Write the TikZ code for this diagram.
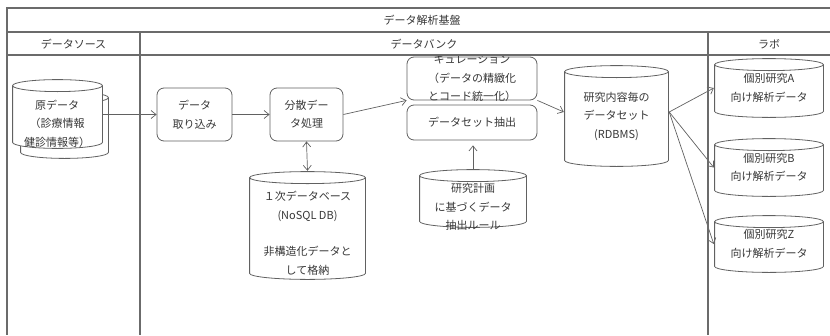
\documentclass[tikz,border=0pt]{standalone}
\usepackage{fontspec}
\setmainfont{Noto Sans CJK JP}
\usepackage{tikz}
\usetikzlibrary{positioning,arrows.meta,calc}

\begin{document}
\begin{tikzpicture}[x=1pt,y=-1pt,
  font=\fontsize{11}{18.5}\selectfont,
  every node/.style={text=black!78,align=center},
  box/.style={draw=black!62,line width=0.8pt,rounded corners=7pt,fill=white,inner sep=0pt},
  dbline/.style={draw=black!62,line width=0.8pt,fill=white},
  db/.style={rectangle,inner sep=0pt,
    path picture={
      \draw[dbline] let \p1=(path picture bounding box.south west),
        \p2=(path picture bounding box.north east),
        \n1={(\x2-\x1)/2-0.6pt} in
        (\x1+0.6pt,\y2-6.6pt) -- (\x1+0.6pt,\y1+6.6pt)
        arc[start angle=180,end angle=360,x radius={\n1*1pt},y radius=6pt]
        -- (\x2-0.6pt,\y2-6.6pt)
        arc[start angle=0,end angle=180,x radius={\n1*1pt},y radius=6pt]
        arc[start angle=180,end angle=360,x radius={\n1*1pt},y radius=6pt];
    }},
  lane/.style={draw=black!58,line width=1.3pt},
  arr/.style={draw=black!62,line width=0.7pt,-{Straight Barb[length=5pt,width=8pt]}}]
  \useasboundingbox (0,0) rectangle (830,335);

  % source
  \node[db,minimum width=89pt,minimum height=68pt] (src2) at (64.5,125) {};
  \node[db,minimum width=91pt,minimum height=70pt] (src) at (57.5,114) {};
  \node (srctxt) at (57,123.5) {原データ\\（診療情報\\健診情報等）};

  % data bank
  \node[box,minimum width=75pt,minimum height=53pt] (imp) at (194.5,114.5) {データ\\取り込み};
  \node[box,minimum width=73pt,minimum height=53pt] (dist) at (306.5,114.5) {分散デー\\タ処理};
  \node[box,minimum width=130pt,minimum height=43pt] (cur) at (472,78.5) {};
  \node (curtxt) at (cur.center) {キュレーション\\（データの精緻化\\とコード統一化）};
  \node[box,minimum width=130pt,minimum height=35pt] (ext) at (472,122.5) {データセット抽出};
  \node[db,minimum width=117pt,minimum height=109pt] (nosql) at (307.5,225.5) {};
  \node (nosqltxt) at (307.5,233.5) {１次データベース\\(NoSQL DB)\\[18pt]非構造化データと\\して格納};
  \node[db,minimum width=108pt,minimum height=59pt] (plan) at (473,198.5) {};
  \node (plantxt) at (473,207) {研究計画\\に基づくデータ\\抽出ルール};
  \node[db,minimum width=105pt,minimum height=102pt] (rdb) at (616.5,116) {研究内容毎の\\データセット\\(RDBMS)};

  % lab
  \node[db,minimum width=110pt,minimum height=60pt] (labA) at (769,88) {個別研究A\\向け解析データ};
  \node[db,minimum width=110pt,minimum height=59pt] (labB) at (769,167.5) {個別研究B\\向け解析データ};
  \node[db,minimum width=110pt,minimum height=58pt] (labZ) at (769,244) {個別研究Z\\向け解析データ};

  % connectors
  \draw[arr] (imp.west -| src.east) -- (imp.west);
  \draw[arr] (imp.east) -- (dist.west);
  \draw[arr] (dist.east) -- (cur.south west);
  \draw[arr] (cur.south east) -- ([yshift=4pt]rdb.west);
  \draw[arr,{Straight Barb[length=5pt,width=8pt]}-{Straight Barb[length=5pt,width=8pt]}] (dist.south) -- (nosql.north);
  \draw[arr,shorten >=5pt] (plan.north) -- (plan.north |- ext.south);
  \draw[arr] ([yshift=4pt]rdb.east) -- (labA.west);
  \draw[arr] ([yshift=4pt]rdb.east) -- (labB.west);
  \draw[arr] ([yshift=4pt]rdb.east) -- (labZ.west);

  % lanes
  \fill[white] (7,8) rectangle (830,55);
  \draw[lane] (830,8) -- (7,8) -- (7,335);
  \draw[lane] (7,32) -- (830,32);
  \draw[lane] (7,55) -- (830,55);
  \draw[lane] (140,32) -- (140,335);
  \draw[lane] (708,32) -- (708,335);
  \node (title) at (422,20) {データ解析基盤};
  \node (hsrc) at (73.5,44) {データソース};
  \node (hbank) at (424,44) {データバンク};
  \node (hlab) at (769,44) {ラボ};
\end{tikzpicture}
\end{document}
